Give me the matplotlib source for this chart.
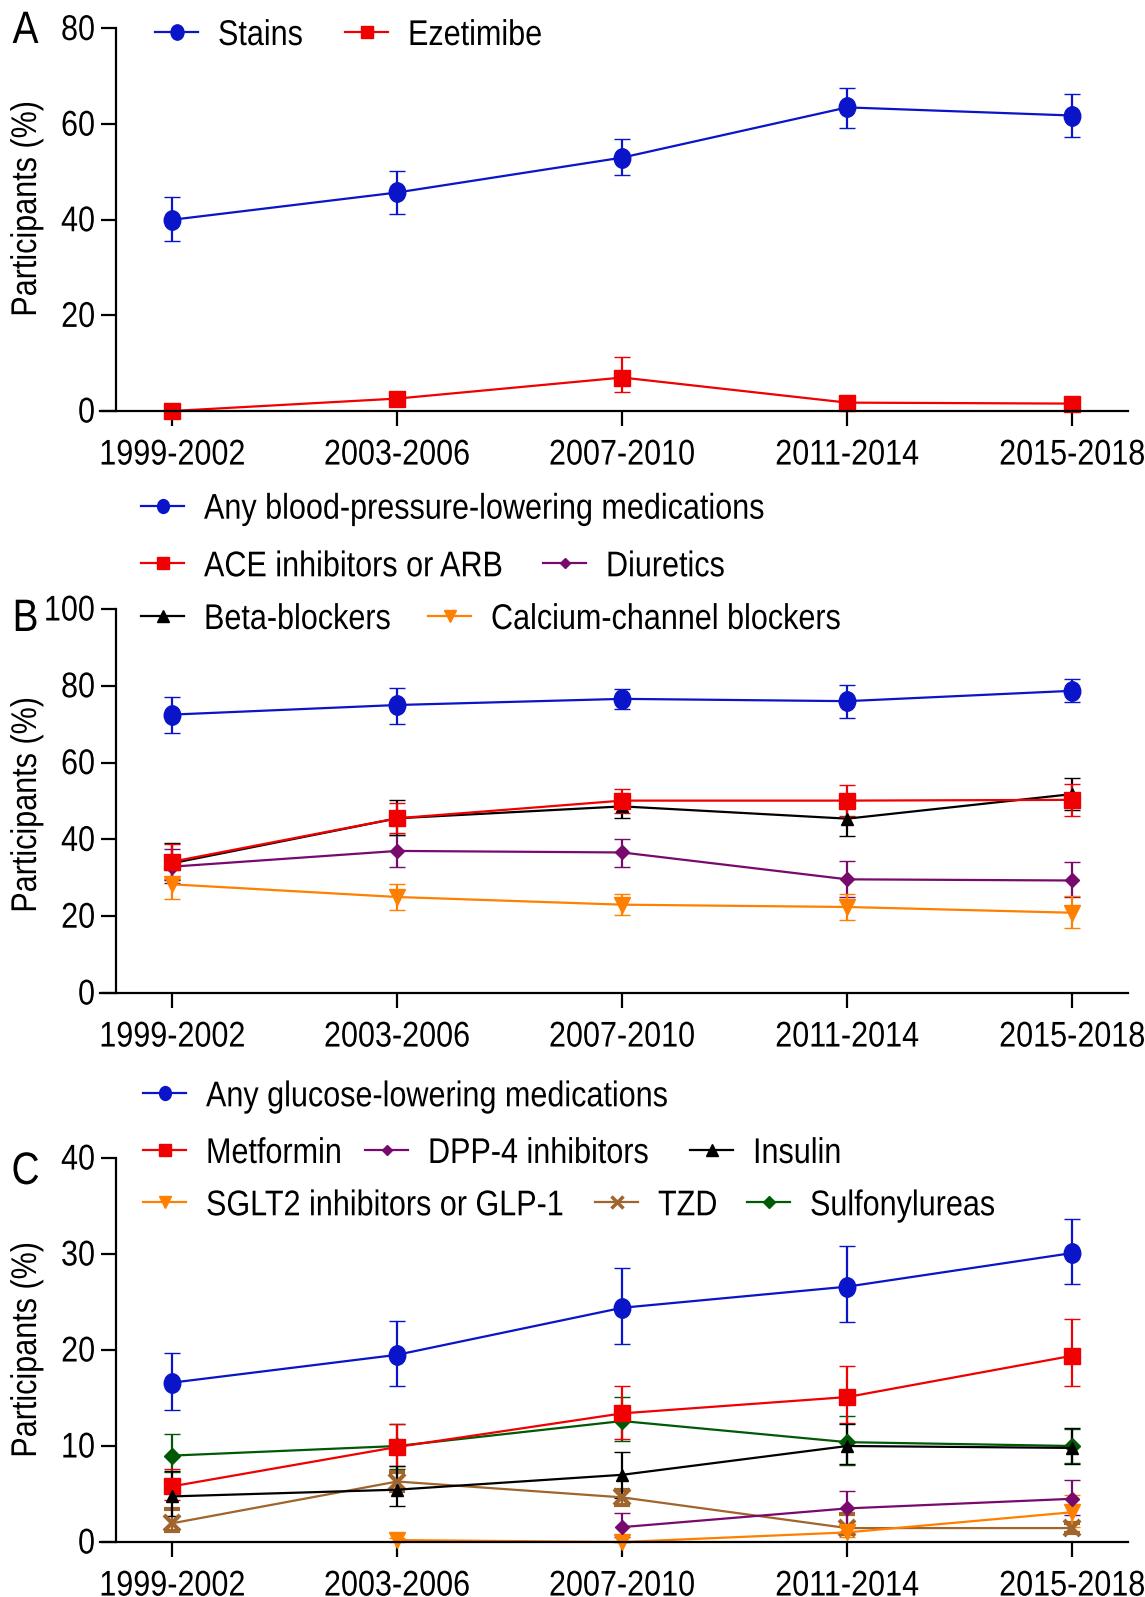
import numpy as np
import matplotlib
matplotlib.use('Agg')
import matplotlib.pyplot as plt
from matplotlib.patheffects import AbstractPathEffect
from matplotlib.transforms import Affine2D
from matplotlib.path import Path

plt.rcParams['font.family'] = ['Liberation Sans', 'DejaVu Sans']

periods = ['1999-2002', '2003-2006', '2007-2010', '2011-2014', '2015-2018']

# A: lipid-lowering
statins = [40.0, 45.7, 53.0, 63.5, 61.8]
statins_lo = [35.6, 41.1, 49.4, 59.1, 57.3]
statins_hi = [44.7, 50.2, 56.8, 67.6, 66.2]
ezetimibe = [0.0, 2.6, 7.0, 1.75, 1.55]
ezetimibe_lo = [0.0, 1.6, 4.0, 1.0, 0.9]
ezetimibe_hi = [0.0, 3.7, 11.3, 2.6, 2.3]

# B: blood-pressure-lowering
any_bp = [72.5, 75.0, 76.6, 76.0, 78.7]
any_bp_lo = [67.8, 70.1, 74.0, 71.6, 75.7]
any_bp_hi = [77.1, 79.4, 79.2, 80.1, 81.7]
ace_arb = [34.2, 45.5, 50.1, 50.1, 50.3]
ace_arb_lo = [29.6, 41.6, 47.0, 46.2, 46.2]
ace_arb_hi = [38.9, 49.4, 53.1, 54.2, 54.4]
diuretics = [32.9, 37.0, 36.6, 29.6, 29.3]
diuretics_lo = [28.6, 32.7, 32.9, 25.1, 25.0]
diuretics_hi = [37.6, 41.2, 40.2, 34.3, 34.2]
beta = [33.8, 45.5, 48.6, 45.4, 51.8]
beta_lo = [29.3, 41.2, 45.7, 41.0, 47.7]
beta_hi = [39.0, 50.3, 51.8, 49.8, 56.0]
ccb = [28.3, 25.0, 23.0, 22.4, 20.9]
ccb_lo = [24.6, 21.7, 20.4, 19.1, 16.8]
ccb_hi = [32.0, 28.5, 25.8, 25.7, 25.3]

# C: glucose-lowering
nan = np.nan
any_glu = [16.6, 19.5, 24.4, 26.6, 30.1]
any_glu_lo = [13.8, 16.3, 20.6, 22.9, 26.9]
any_glu_hi = [19.7, 23.0, 28.5, 30.8, 33.6]
metformin = [5.8, 9.9, 13.4, 15.1, 19.4]
metformin_lo = [4.4, 7.9, 10.7, 12.4, 16.3]
metformin_hi = [7.6, 12.3, 16.3, 18.3, 23.2]
dpp4 = [nan, nan, 1.55, 3.5, 4.5]
dpp4_lo = [nan, nan, 0.5, 1.8, 2.85]
dpp4_hi = [nan, nan, 3.0, 5.35, 6.5]
insulin = [4.75, 5.45, 7.0, 10.0, 9.8]
insulin_lo = [2.7, 3.8, 4.6, 8.1, 8.1]
insulin_hi = [7.4, 7.95, 9.4, 12.3, 11.9]
sglt2 = [nan, 0.2, 0.0, 1.0, 3.1]
sglt2_lo = [nan, 0.0, 0.0, 0.5, 1.6]
sglt2_hi = [nan, 0.4, 0.0, 1.6, 4.9]
tzd = [1.95, 6.3, 4.65, 1.45, 1.45]
tzd_lo = [1.1, 5.3, 3.9, 0.8, 0.9]
tzd_hi = [3.4, 7.3, 5.4, 2.9, 2.0]
sulfonylureas = [9.0, 10.0, 12.6, 10.4, 10.0]
sulfonylureas_lo = [7.3, 7.6, 10.5, 8.0, 8.2]
sulfonylureas_hi = [11.2, 12.3, 15.1, 13.1, 11.8]

BLUE = '#0A14C8'
RED = '#F00000'
PURPLE = '#780A6E'
BLACK = '#000000'
ORANGE = '#FF7F00'
BROWN = '#A0642D'
GREEN = '#005A05'

W, H = 1145, 1597
FS = 22


class Tall(AbstractPathEffect):
    """Draw glyphs a little taller than the font's own proportions."""

    def __init__(self, k=1.17):
        super().__init__()
        self.k = k

    def draw_path(self, renderer, gc, tpath, affine, rgbFace=None):
        renderer.draw_path(gc, tpath, Affine2D().scale(1, self.k) + affine,
                           rgbFace)


TALL = [Tall()]
# slightly upright oval dots
OVAL = Path(Affine2D().scale(0.85, 1.0).transform(Path.unit_circle().vertices),
            Path.unit_circle().codes)

fig = plt.figure(figsize=(W / 100, H / 100), dpi=100)


def panel(top, bottom, ymax, step):
    ax = fig.add_axes([100 / W, 1 - bottom / H, 1028 / W, (bottom - top) / H])
    ax.set_xlim(-0.321, 4.248)
    ax.set_ylim(0, ymax)
    for s in ('top', 'right'):
        ax.spines[s].set_visible(False)
    ax.spines['left'].set_position(('data', -0.25))
    for s in ('left', 'bottom'):
        ax.spines[s].set_linewidth(1.6)
    ax.set_xticks(range(len(periods)))
    ax.set_xticklabels(periods)
    ax.set_yticks(np.arange(0, ymax + 1, step))
    ax.tick_params(axis='both', labelsize=FS, width=1.6, length=11)
    ax.tick_params(axis='y', pad=4)
    ax.tick_params(axis='x', pad=11)
    for lbl in ax.get_xticklabels() + ax.get_yticklabels():
        lbl.set_path_effects(TALL)
    ax.patch.set_alpha(0)
    return ax


def series(ax, y, lo, hi, color, marker, ms, mew=1.0, z=2):
    y = np.asarray(y, float)
    err = [y - np.asarray(lo, float), np.asarray(hi, float) - y]
    x = np.arange(len(y))
    parts = ax.errorbar(x, y, yerr=err, color=color, marker=marker, ms=ms,
                        mew=mew, lw=1.6, elinewidth=1.6, capsize=6,
                        capthick=1.6, zorder=z)
    for a in [parts[0], *parts[1], *parts[2]]:
        a.set_clip_on(False)


axA = panel(28.5, 411, 80, 20)
series(axA, statins, statins_lo, statins_hi, BLUE, OVAL, 14)
series(axA, ezetimibe, ezetimibe_lo, ezetimibe_hi, RED, 's', 11)

axB = panel(609, 993, 100, 20)
series(axB, any_bp, any_bp_lo, any_bp_hi, BLUE, OVAL, 14)
series(axB, diuretics, diuretics_lo, diuretics_hi, PURPLE, 'D', 7)
series(axB, ccb, ccb_lo, ccb_hi, ORANGE, 'v', 11)
series(axB, beta, beta_lo, beta_hi, BLACK, '^', 9)
series(axB, ace_arb, ace_arb_lo, ace_arb_hi, RED, 's', 11)

axC = panel(1158, 1542, 40, 10)
series(axC, any_glu, any_glu_lo, any_glu_hi, BLUE, OVAL, 14)
series(axC, sulfonylureas, sulfonylureas_lo, sulfonylureas_hi, GREEN, 'D', 8)
series(axC, metformin, metformin_lo, metformin_hi, RED, 's', 11)
series(axC, tzd, tzd_lo, tzd_hi, BROWN, 'x', 11, mew=3)
series(axC, sglt2, sglt2_lo, sglt2_hi, ORANGE, 'v', 11)
series(axC, dpp4, dpp4_lo, dpp4_hi, PURPLE, 'D', 7)
series(axC, insulin, insulin_lo, insulin_hi, BLACK, '^', 9)

# overlay in pixel coordinates for keys, panel letters and y labels
ov = fig.add_axes([0, 0, 1, 1], zorder=-1)
ov.set_xlim(0, W)
ov.set_ylim(H, 0)
ov.axis('off')


def key(x0, y, label, color, marker, ms, mew=1.0):
    ov.plot([x0, x0 + 43], [y, y], color=color, lw=1.6)
    ov.plot([x0 + 21.5], [y], marker=marker, color=color, ms=ms, mew=mew)
    ov.text(x0 + 63, y + 5, label, fontsize=FS, va='center', ha='left',
            path_effects=TALL)


key(155, 32, 'Stains', BLUE, OVAL, 11)
key(345, 32, 'Ezetimibe', RED, 's', 9)

key(141, 505.7, 'Any blood-pressure-lowering medications', BLUE, OVAL, 10)
key(141, 563.3, 'ACE inhibitors or ARB', RED, 's', 8)
key(543, 563.3, 'Diuretics', PURPLE, 'D', 5.5)
key(141, 616, 'Beta-blockers', BLACK, '^', 8)
key(428, 616, 'Calcium-channel blockers', ORANGE, 'v', 8)

key(143, 1093.3, 'Any glucose-lowering medications', BLUE, OVAL, 10)
key(143, 1150, 'Metformin', RED, 's', 8)
key(365, 1150, 'DPP-4 inhibitors', PURPLE, 'D', 5.5)
key(690, 1150, 'Insulin', BLACK, '^', 8)
key(143, 1202.3, 'SGLT2 inhibitors or GLP-1', ORANGE, 'v', 8)
key(595, 1202.3, 'TZD', BROWN, 'x', 8, mew=2.5)
key(747, 1202.3, 'Sulfonylureas', GREEN, 'D', 6)

for letter, yc in (('A', 33), ('B', 621), ('C', 1174)):
    ov.text(25.5, yc, letter, fontsize=28, ha='center', va='center',
            path_effects=TALL)

for yc in (209, 805, 1350):
    ov.text(28, yc, 'Participants (%)', fontsize=FS, rotation=90,
            ha='center', va='center', path_effects=TALL)

fig.savefig('out.png', dpi=100)
